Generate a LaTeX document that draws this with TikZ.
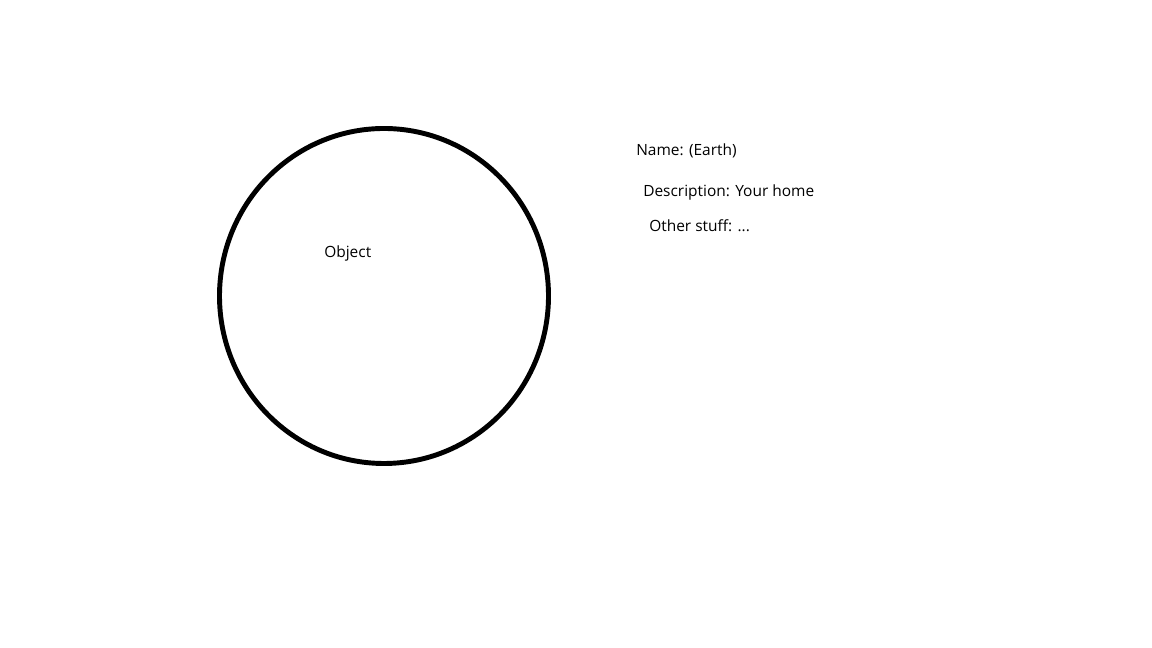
\documentclass[tikz,border=0pt]{standalone}
\usepackage{fontspec}
\setmainfont{Open Sans}
\usepackage{tikz}
\usetikzlibrary{shapes.geometric}

\begin{document}
\begin{tikzpicture}
\useasboundingbox (0,0) rectangle (28.8,16.2);

\node[shape=ellipse,draw=black,line width=3.5pt,minimum width=8.225cm,minimum height=8.375cm,inner sep=0pt] (E) at (9.6,8.8) {};
\node[anchor=base west,inner sep=0pt,font=\fontsize{11}{13}\selectfont] (obj) at (8.1,9.75) {Object};

\node[anchor=base west,inner sep=0pt,font=\fontsize{11}{13}\selectfont] (name) at (15.9,12.3) {Name: (Earth)};
\node[anchor=base west,inner sep=0pt,font=\fontsize{11}{13}\selectfont] (desc) at (16.075,11.29) {Description: Your home};
\node[anchor=base west,inner sep=0pt,font=\fontsize{11}{13}\selectfont] (other) at (16.225,10.4) {Other stuff: ...};

\end{tikzpicture}
\end{document}
